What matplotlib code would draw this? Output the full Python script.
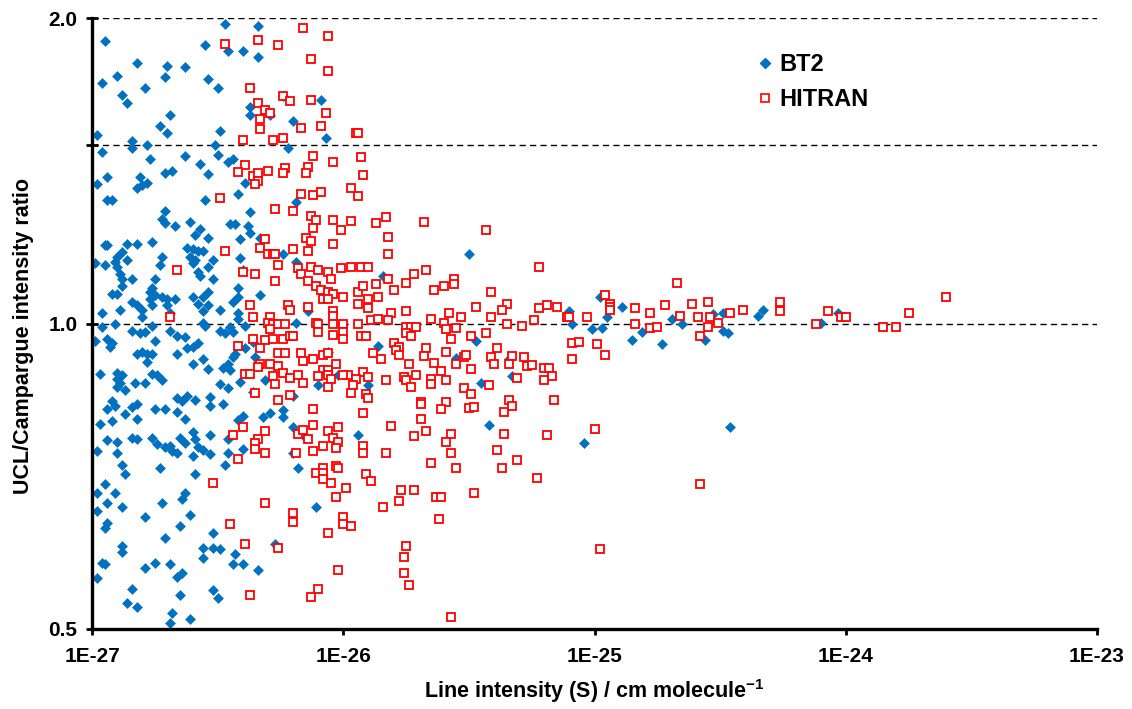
import matplotlib
matplotlib.use("Agg")
import matplotlib.pyplot as plt
from matplotlib.lines import Line2D
import numpy as np

plt.rcParams['font.family'] = ['Liberation Sans', 'DejaVu Sans']
plt.rcParams['font.weight'] = 'bold'
plt.rcParams['mathtext.fontset'] = 'custom'
plt.rcParams['mathtext.rm'] = 'Liberation Sans:bold'
plt.rcParams['mathtext.bf'] = 'Liberation Sans:bold'
plt.rcParams['mathtext.default'] = 'rm'

# (log10 S [cm/molecule], UCL/Campargue intensity ratio)
bt2_points = [
    (-26.47,1.972),(-26.34,1.963),(-26.95,1.897),(-26.55,1.880),(-26.46,1.854),(-26.40,1.854),(-26.34,1.829),(-26.82,1.805),(-26.70,1.793),(-26.63,1.788),
    (-26.90,1.752),(-26.71,1.748),(-26.54,1.740),(-26.96,1.724),(-26.79,1.705),(-26.50,1.708),(-26.88,1.681),(-26.86,1.651),(-26.37,1.633),(-26.24,1.674),
    (-26.37,1.604),(-26.29,1.604),(-26.69,1.604),(-26.73,1.564),(-26.70,1.539),(-26.49,1.549),(-26.20,1.582),(-26.98,1.535),(-26.84,1.512),(-26.84,1.488),
    (-26.78,1.498),(-26.51,1.498),(-26.96,1.477),(-26.50,1.467),(-26.77,1.451),(-26.63,1.464),(-26.44,1.454),(-26.46,1.441),(-26.22,1.488),(-26.57,1.435),
    (-26.54,1.403),(-26.71,1.406),(-26.68,1.415),(-26.94,1.393),(-26.81,1.393),(-26.98,1.371),(-26.82,1.359),(-26.80,1.368),(-26.78,1.377),(-26.39,1.374),
    (-26.42,1.343),(-26.94,1.322),(-26.92,1.322),(-26.55,1.322),(-26.19,1.316),(-26.71,1.292),(-26.37,1.287),(-26.72,1.269),(-26.71,1.255),(-26.67,1.249),
    (-26.61,1.258),(-26.45,1.252),(-26.43,1.252),(-26.38,1.249),(-26.37,1.229),(-26.57,1.238),(-26.59,1.221),(-26.54,1.213),(-26.41,1.210),(-26.33,1.213),
    (-26.95,1.196),(-26.94,1.196),(-26.86,1.199),(-26.82,1.199),(-26.76,1.202),(-26.62,1.188),(-26.60,1.183),(-26.58,1.180),(-26.56,1.178),(-26.88,1.175),
    (-26.90,1.162),(-26.91,1.151),(-26.86,1.154),(-26.99,1.146),(-26.95,1.141),(-26.90,1.136),(-26.72,1.162),(-26.73,1.141),(-26.61,1.164),(-26.60,1.146),
    (-26.59,1.154),(-26.52,1.154),(-26.54,1.136),(-26.58,1.123),(-26.57,1.113),(-26.41,1.159),(-26.40,1.128),(-26.24,1.172),(-26.19,1.151),(-26.89,1.120),
    (-26.88,1.105),(-26.84,1.107),(-26.75,1.107),(-26.52,1.107),(-26.88,1.090),(-26.76,1.085),(-26.42,1.083),(-26.92,1.070),(-26.90,1.070),(-26.77,1.073),
    (-26.75,1.066),(-26.54,1.073),(-26.56,1.063),(-26.42,1.061),(-26.33,1.068),(-26.77,1.056),(-26.72,1.061),(-26.70,1.058),(-26.67,1.056),(-26.60,1.061),
    (-26.44,1.049),(-26.84,1.049),(-26.82,1.042),(-26.76,1.044),(-26.80,1.030),(-26.80,1.016),(-26.89,1.032),(-26.96,1.025),(-26.70,1.042),(-26.69,1.025),
    (-26.58,1.046),(-26.54,1.044),(-26.56,1.028),(-26.49,1.032),(-26.42,1.025),(-26.42,1.011),(-26.91,1.000),(-26.76,0.995),(-26.56,1.002),(-26.55,0.995),
    (-26.45,0.991),(-26.39,0.995),(-26.19,1.002),
    (-26.96,0.991),(-26.84,0.984),(-26.81,0.978),(-26.79,0.980),(-26.69,0.984),(-26.66,0.973),(-26.63,0.969),(-26.49,0.984),(-26.47,0.978),(-26.44,0.980),
    (-26.99,0.960),(-26.94,0.966),(-26.92,0.956),(-26.93,0.949),(-26.75,0.960),(-26.66,0.934),(-26.62,0.945),(-26.60,0.949),(-26.58,0.956),(-26.82,0.934),
    (-26.80,0.938),(-26.78,0.934),(-26.76,0.934),(-26.78,0.917),(-26.60,0.913),(-26.56,0.922),(-26.44,0.926),(-26.43,0.934),(-26.46,0.913),(-26.54,0.901),
    (-26.48,0.903),(-26.45,0.899),(-26.39,0.947),(-26.36,0.958),(-26.35,0.926),(-26.97,0.891),(-26.90,0.893),(-26.88,0.889),(-26.90,0.881),(-26.89,0.873),
    (-26.87,0.859),(-26.90,0.865),(-26.83,0.873),(-26.79,0.873),(-26.76,0.891),(-26.74,0.889),(-26.72,0.879),(-26.49,0.871),(-26.46,0.863),(-26.41,0.875),
    (-26.31,0.879),(-26.20,0.849),(-26.36,0.857),(-26.92,0.838),(-26.91,0.830),(-26.94,0.823),(-26.87,0.815),(-26.84,0.828),(-26.82,0.834),(-26.75,0.823),
    (-26.71,0.823),(-26.66,0.845),(-26.64,0.838),(-26.62,0.849),(-26.59,0.841),(-26.66,0.819),(-26.53,0.847),(-26.53,0.830),(-26.48,0.834),(-26.92,0.802),
    (-26.82,0.806),(-26.63,0.806),(-26.97,0.797),(-26.42,0.804),(-26.40,0.810),(-26.32,0.808),(-26.29,0.817),(-26.24,0.821),(-26.24,0.808),(-26.20,0.790),
    (-26.94,0.767),(-26.90,0.764),(-26.84,0.772),(-26.82,0.769),(-26.76,0.772),(-26.74,0.760),(-26.71,0.756),(-26.69,0.758),(-26.68,0.748),(-26.66,0.746),
    (-26.65,0.772),(-26.63,0.762),(-26.60,0.781),(-26.59,0.770),(-26.58,0.756),(-26.56,0.750),(-26.53,0.743),(-26.60,0.740),(-26.53,0.776),(-26.46,0.770),
    (-26.46,0.745),(-26.40,0.753),(-26.98,0.748),(-26.90,0.745),(-26.88,0.726),(-26.87,0.711),(-26.73,0.721),(-26.59,0.710),(-26.47,0.726),(-26.20,0.745),
    (-26.18,0.721),(-26.95,0.694),(-26.98,0.680),(-26.91,0.680),(-26.94,0.665),(-26.88,0.660),(-26.98,0.654),(-26.72,0.665),(-26.64,0.672),(-26.63,0.680),
    (-26.94,0.636),(-26.95,0.629),(-26.79,0.645),(-26.61,0.648),(-26.65,0.631),(-26.52,0.621),(-26.71,0.614),(-26.88,0.604),(-26.88,0.596),(-26.56,0.601),
    (-26.52,0.601),(-26.49,0.599),(-26.56,0.588),(-26.43,0.593),(-26.44,0.580),(-26.40,0.580),(-26.96,0.581),(-26.95,0.580),(-26.75,0.581),(-26.69,0.579),
    (-26.79,0.574),(-26.64,0.568),(-26.66,0.562),(-26.34,0.572),(-26.27,0.606),(-26.98,0.561),(-26.84,0.547),(-26.65,0.540),(-26.52,0.546),(-26.50,0.537),
    (-26.86,0.530),(-26.82,0.525),(-26.68,0.518),(-26.69,0.507),(-26.61,0.512),
    (-26.09,1.662),(-26.07,1.525),(-25.50,1.172),(-25.84,1.115),(-26.14,1.028),
    (-26.06,0.938),(-25.86,0.951),(-26.10,0.869),(-26.02,0.889),(-25.90,0.869),(-25.55,0.924),(-25.47,0.960),(-25.45,0.873),(-25.34,0.922),(-25.33,0.887),
    (-26.15,0.772),(-25.94,0.777),(-25.42,0.795),(-26.11,0.660),
    (-24.98,1.061),(-24.89,1.039),(-25.10,1.028),(-25.09,1.000),(-24.95,1.016),(-25.01,0.987),(-24.97,0.989),(-24.85,0.964),(-24.81,0.980),(-24.73,0.954),
    (-24.69,1.011),(-24.65,1.000),(-24.53,1.021),(-24.49,1.025),(-24.56,0.964),(-24.49,0.984),(-24.47,0.978),(-24.35,1.018),(-25.04,0.762),(-24.46,0.791),
    (-24.33,1.032),(-24.10,1.002),(-24.03,1.023),
]

hitran_points = [
    (-26.47,1.884),(-26.34,1.901),(-26.26,1.880),(-26.37,1.708),(-26.34,1.651),(-26.31,1.622),(-26.29,1.611),(-26.33,1.589),(-26.33,1.553),(-26.24,1.674),
    (-26.21,1.655),(-26.40,1.515),(-26.28,1.515),(-26.24,1.525),(-26.39,1.432),(-26.42,1.409),(-26.36,1.396),(-26.34,1.406),(-26.30,1.415),(-26.34,1.383),
    (-26.35,1.371),(-26.23,1.422),(-26.24,1.406),(-26.49,1.328),(-26.27,1.298),(-26.20,1.292),(-26.31,1.210),(-26.47,1.178),(-26.33,1.186),(-26.30,1.172),
    (-26.28,1.170),(-26.27,1.170),(-26.20,1.183),(-26.26,1.143),(-26.66,1.128),(-26.40,1.125),(-26.35,1.120),(-26.27,1.102),(-26.37,1.042),(-26.22,1.044),
    (-26.21,1.030),(-26.36,1.014),(-26.69,1.014),(-26.29,1.014),(-26.30,1.002),(-26.28,1.000),(-26.26,0.998),(-26.23,1.000),
    (-26.29,0.987),(-26.36,0.966),(-26.31,0.964),(-26.28,0.966),(-26.24,0.966),(-26.21,0.971),(-26.20,0.971),(-26.42,0.951),(-26.33,0.945),(-26.26,0.936),
    (-26.23,0.936),(-26.17,0.936),(-26.33,0.913),(-26.34,0.905),(-26.29,0.913),(-26.26,0.909),(-26.39,0.891),(-26.37,0.891),(-26.28,0.887),(-26.24,0.893),
    (-26.21,0.883),(-26.18,0.889),(-26.27,0.871),(-26.35,0.855),(-26.21,0.851),(-26.26,0.840),(-26.40,0.790),(-26.44,0.777),(-26.31,0.783),(-26.34,0.769),
    (-26.35,0.762),(-26.35,0.753),(-26.31,0.746),(-26.42,0.736),(-26.19,0.746),(-26.18,0.779),(-26.52,0.696),(-26.31,0.665),(-26.20,0.650),(-26.20,0.638),
    (-26.45,0.634),(-26.39,0.606),(-26.26,0.601),(-26.37,0.540),
    (-26.16,1.954),(-26.06,1.918),(-26.13,1.824),(-26.06,1.772),(-26.13,1.659),(-26.07,1.611),(-26.17,1.560),(-26.09,1.564),(-25.95,1.542),(-25.94,1.539),
    (-26.12,1.461),(-26.04,1.444),(-25.93,1.458),(-26.14,1.425),(-26.15,1.406),(-25.92,1.400),(-26.17,1.343),(-26.12,1.337),(-26.09,1.349),(-25.97,1.359),
    (-25.94,1.334),(-26.13,1.275),(-26.11,1.266),(-26.12,1.243),(-26.04,1.266),(-26.01,1.235),(-25.97,1.261),(-25.87,1.255),(-25.83,1.272),(-25.82,1.218),
    (-25.68,1.258),(-25.43,1.235),(-26.15,1.213),(-26.13,1.207),(-26.14,1.178),(-26.04,1.199),(-25.82,1.170),(-26.18,1.133),(-26.13,1.136),(-26.10,1.130),
    (-26.06,1.123),(-26.01,1.133),(-25.97,1.138),(-25.93,1.136),(-25.90,1.136),(-26.17,1.118),(-26.14,1.100),(-26.11,1.090),(-26.05,1.105),(-26.09,1.078),
    (-26.06,1.073),(-26.04,1.070),(-26.00,1.063),(-25.94,1.073),(-25.92,1.090),(-25.87,1.095),(-25.82,1.105),(-25.80,1.080),(-25.75,1.097),(-25.72,1.120),
    (-25.67,1.128),(-25.56,1.107),(-25.56,1.093),(-25.60,1.090),(-25.64,1.080),(-25.41,1.073),(-26.08,1.056),(-26.06,1.056),(-25.94,1.046),(-25.90,1.058),
    (-25.86,1.061),(-25.90,1.035),(-26.14,1.039),(-26.04,1.028),(-26.04,1.018),(-25.81,1.025),(-25.75,1.028),(-25.58,1.023),(-25.53,1.014),(-25.47,1.039),
    (-25.41,1.014),(-25.35,1.046),(-25.37,1.030),(-25.65,1.011),(-26.11,1.002),(-26.10,1.000),(-26.04,1.000),(-26.00,0.998),(-25.94,1.000),(-25.89,1.007),
    (-25.86,1.011),(-25.82,1.007),(-25.60,1.002),(-25.35,1.000),(-25.29,0.995),
    (-26.10,0.980),(-26.04,0.975),(-26.00,0.982),(-26.00,0.966),(-25.93,0.973),(-25.91,0.973),(-25.75,0.991),(-25.73,0.991),(-25.71,0.993),(-25.75,0.978),
    (-25.73,0.973),(-25.59,0.987),(-25.55,0.989),(-25.57,0.966),(-25.49,0.973),(-25.43,0.978),(-26.16,0.919),(-26.12,0.922),(-26.08,0.932),(-26.06,0.936),
    (-26.03,0.913),(-26.08,0.899),(-26.06,0.899),(-26.06,0.889),(-26.05,0.881),(-26.06,0.865),(-26.10,0.887),(-26.16,0.873),(-25.98,0.889),(-26.00,0.889),
    (-25.92,0.895),(-25.95,0.881),(-25.90,0.885),(-25.96,0.869),(-25.97,0.855),(-25.91,0.853),(-25.90,0.844),(-25.88,0.936),(-25.85,0.922),(-25.80,0.956),
    (-25.78,0.949),(-25.79,0.941),(-25.78,0.932),(-25.83,0.879),(-25.74,0.913),(-25.76,0.885),(-25.75,0.879),(-25.73,0.865),(-25.71,0.889),(-25.67,0.947),
    (-25.68,0.928),(-25.64,0.915),(-25.59,0.938),(-25.61,0.897),(-25.59,0.879),(-25.65,0.881),(-25.65,0.871),(-25.55,0.913),(-25.52,0.926),(-25.51,0.930),
    (-25.49,0.901),(-25.52,0.863),(-25.49,0.853),(-25.42,0.869),(-25.41,0.926),(-25.40,0.913),(-25.39,0.947),(-25.33,0.928),(-25.34,0.913),(-25.31,0.883),
    (-26.12,0.824),(-25.92,0.817),(-25.69,0.836),(-25.69,0.834),(-25.59,0.836),(-25.61,0.824),(-25.50,0.826),(-25.48,0.828),(-25.36,0.819),(-25.34,0.841),
    (-25.33,0.830),(-25.69,0.806),(-26.12,0.795),(-26.02,0.790),(-26.06,0.784),(-26.16,0.786),(-26.14,0.770),(-26.04,0.772),(-26.02,0.765),(-26.03,0.754),
    (-26.08,0.758),(-25.81,0.793),(-25.72,0.774),(-25.67,0.783),(-25.57,0.779),(-25.59,0.764),(-25.92,0.758),(-25.92,0.745),(-25.83,0.745),(-25.57,0.745),
    (-25.39,0.751),(-25.36,0.779),(-26.12,0.748),(-26.03,0.724),(-26.02,0.721),(-26.08,0.721),(-26.11,0.713),(-26.08,0.713),(-26.08,0.703),(-26.05,0.696),
    (-25.91,0.711),(-25.89,0.699),(-25.65,0.729),(-25.55,0.720),(-25.37,0.720),(-25.31,0.734),(-25.99,0.688),(-26.03,0.674),(-25.77,0.686),(-25.72,0.685),
    (-25.78,0.668),(-25.84,0.659),(-25.63,0.675),(-25.61,0.675),(-25.48,0.681),(-26.00,0.645),(-26.00,0.635),(-25.97,0.631),(-26.06,0.621),(-25.62,0.642),
    (-25.75,0.603),(-25.76,0.589),(-25.76,0.568),(-25.74,0.552),(-26.02,0.572),(-26.10,0.548),(-26.13,0.538),(-25.57,0.514),
    (-25.22,1.138),(-24.67,1.097),(-24.96,1.068),(-24.94,1.046),(-24.94,1.037),(-24.94,1.030),(-25.22,1.035),(-25.19,1.042),(-25.15,1.037),(-24.84,1.035),
    (-24.78,1.023),(-24.72,1.044),(-24.61,1.046),(-24.55,1.051),(-24.46,1.025),(-24.41,1.032),(-25.24,1.009),(-25.11,1.014),(-25.10,1.014),(-25.03,1.014),
    (-24.84,1.000),(-24.78,0.989),(-24.75,0.993),(-24.66,1.018),(-24.59,1.014),(-24.54,1.016),(-24.51,1.002),(-24.55,0.991),(-24.58,0.973),(-25.09,0.956),
    (-25.06,0.958),(-24.99,0.954),(-24.96,0.932),(-25.09,0.922),(-25.28,0.926),(-25.27,0.909),(-25.25,0.911),(-25.20,0.903),(-25.18,0.903),(-25.17,0.887),
    (-25.20,0.879),(-25.16,0.841),(-25.00,0.788),(-25.19,0.777),(-25.23,0.705),(-24.58,0.694),(-24.98,0.599),
    (-24.26,1.049),(-24.26,1.028),(-24.12,0.998),(-24.07,1.028),(-24.02,1.016),(-24.00,1.016),(-23.85,0.991),(-23.80,0.993),(-23.75,1.023),(-23.60,1.063),
]

x_ticks = [1e-27, 1e-26, 1e-25, 1e-24, 1e-23]
x_tick_labels = ["1E-27", "1E-26", "1E-25", "1E-24", "1E-23"]
y_ticks = [0.5, 1.0, 1.5, 2.0]
y_tick_labels = ["0.5", "1.0", "", "2.0"]
grid_levels = [1.0, 1.5, 2.0]

bt2_S = 10.0 ** np.array([p[0] for p in bt2_points])
bt2_r = np.array([p[1] for p in bt2_points])
hit_S = 10.0 ** np.array([p[0] for p in hitran_points])
hit_r = np.array([p[1] for p in hitran_points])

fig = plt.figure(figsize=(11.32, 7.09), dpi=100)
ax = fig.add_axes([92/1132, 1 - 629/709, (1097-92)/1132, (629-18)/709])

blue = '#0070C0'
red = '#FF0000'

ax.plot(bt2_S, bt2_r, linestyle='none', marker='D', markersize=5.0,
        markerfacecolor=blue, markeredgecolor=blue, markeredgewidth=0.4, zorder=3)
ax.plot(hit_S, hit_r, linestyle='none', marker='s', markersize=6.3,
        markerfacecolor='white', markeredgecolor=red, markeredgewidth=1.3, zorder=4)

for g in grid_levels:
    ax.axhline(g, color='black', linestyle=(0, (4.5, 3.0)), linewidth=1.0, zorder=1)

ax.set_xscale('log')
ax.set_yscale('log', base=2)
ax.set_xlim(1e-27, 1e-23)
ax.set_ylim(0.5, 2.0)

ax.set_xticks(x_ticks)
ax.set_xticklabels(x_tick_labels)
ax.xaxis.set_minor_locator(matplotlib.ticker.NullLocator())
ax.set_yticks(y_ticks)
ax.set_yticklabels(y_tick_labels)
ax.yaxis.set_minor_locator(matplotlib.ticker.NullLocator())

for s in ['top', 'right']:
    ax.spines[s].set_visible(False)
for s in ['left', 'bottom']:
    ax.spines[s].set_linewidth(2.4)
    ax.spines[s].set_color('black')
    ax.spines[s].set_zorder(5)

ax.tick_params(axis='x', direction='out', length=4, width=2, pad=9, labelsize=15)
ax.tick_params(axis='y', direction='inout', length=9, width=2, pad=6, labelsize=15)
for lab in ax.get_xticklabels() + ax.get_yticklabels():
    lab.set_fontweight('bold')

ax.set_xlabel(r'Line intensity (S) / cm molecule$^{-1}$', fontsize=15.5, fontweight='bold', labelpad=8)
ax.set_ylabel('UCL/Campargue intensity ratio', fontsize=15.5, fontweight='bold', labelpad=6)
ax.yaxis.set_label_coords(-0.058, 0.48)

handles = [
    Line2D([], [], linestyle='none', marker='D', markersize=5.0, markerfacecolor=blue,
           markeredgecolor=blue, label='BT2'),
    Line2D([], [], linestyle='none', marker='s', markersize=5.2, markerfacecolor='white',
           markeredgecolor=red, markeredgewidth=1.2, label='HITRAN'),
]
leg = ax.legend(handles=handles, loc='upper left', bbox_to_anchor=(758/1132, 1 - 53/709),
                bbox_transform=fig.transFigure, borderpad=0, borderaxespad=0,
                frameon=False, prop={'size': 17, 'weight': 'bold'},
                handlelength=0.6, handletextpad=0.3, labelspacing=0.5)

fig.savefig('out.png', dpi=100)
